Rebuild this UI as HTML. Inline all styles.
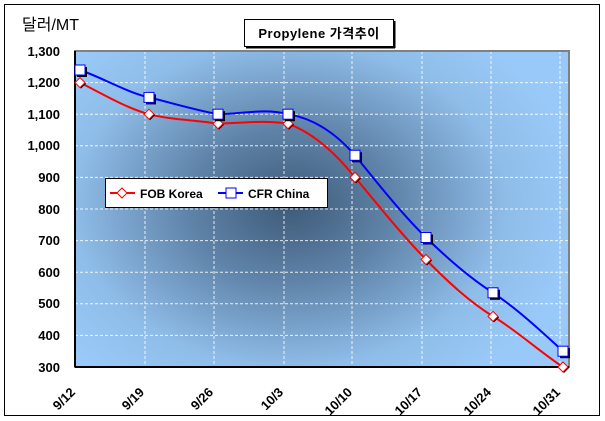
<!DOCTYPE html>
<html><head><meta charset="utf-8"><style>
body{margin:0;background:#fff;}
svg{display:block;font-family:"Liberation Sans","Noto Sans CJK KR",sans-serif;}
</style></head><body>
<svg width="605" height="421" viewBox="0 0 605 421">
<defs>
<radialGradient id="bg" cx="290" cy="205" r="290" gradientUnits="userSpaceOnUse" gradientTransform="translate(290 205) scale(1 0.75) translate(-290 -205)">
<stop offset="0" stop-color="#3e5a78"/>
<stop offset="0.35" stop-color="#5f83a8"/>
<stop offset="0.75" stop-color="#8fbde9"/>
<stop offset="1" stop-color="#99c9f8"/>
</radialGradient>
</defs>
<rect x="4.5" y="4.5" width="595" height="411" fill="#fff" stroke="#000" stroke-width="1"/>
<rect x="75" y="51" width="494" height="316" fill="url(#bg)"/>
<g stroke="#fff" stroke-dasharray="3,2" stroke-width="1" opacity="0.85">
<line x1="75" y1="82.6" x2="569" y2="82.6"/><line x1="75" y1="114.2" x2="569" y2="114.2"/>
<line x1="75" y1="145.8" x2="569" y2="145.8"/><line x1="75" y1="177.4" x2="569" y2="177.4"/>
<line x1="75" y1="209" x2="569" y2="209"/><line x1="75" y1="240.6" x2="569" y2="240.6"/>
<line x1="75" y1="272.2" x2="569" y2="272.2"/><line x1="75" y1="303.8" x2="569" y2="303.8"/>
<line x1="75" y1="335.4" x2="569" y2="335.4"/>
<line x1="145" y1="51" x2="145" y2="367"/><line x1="214" y1="51" x2="214" y2="367"/>
<line x1="284" y1="51" x2="284" y2="367"/><line x1="352" y1="51" x2="352" y2="367"/>
<line x1="422" y1="51" x2="422" y2="367"/><line x1="491" y1="51" x2="491" y2="367"/>
<line x1="560" y1="51" x2="560" y2="367"/>
</g>
<rect x="75" y="51" width="494" height="316" fill="none" stroke="#808080" stroke-width="2"/>
<line x1="75" y1="51" x2="75" y2="367" stroke="#000" stroke-width="2"/>
<line x1="75" y1="367" x2="569" y2="367" stroke="#000" stroke-width="2"/>
<g font-size="13" font-weight="bold" text-anchor="end">
<text x="60" y="56">1,300</text><text x="60" y="87">1,200</text><text x="60" y="119">1,100</text>
<text x="60" y="150">1,000</text><text x="60" y="182">900</text><text x="60" y="214">800</text>
<text x="60" y="245">700</text><text x="60" y="277">600</text><text x="60" y="308">500</text>
<text x="60" y="340">400</text><text x="60" y="372">300</text>
</g>
<g font-size="13" font-weight="bold" text-anchor="end">
<text transform="translate(76 393) rotate(-45)">9/12</text>
<text transform="translate(145 393) rotate(-45)">9/19</text>
<text transform="translate(214 393) rotate(-45)">9/26</text>
<text transform="translate(284 393) rotate(-45)">10/3</text>
<text transform="translate(353 393) rotate(-45)">10/10</text>
<text transform="translate(423 393) rotate(-45)">10/17</text>
<text transform="translate(492 393) rotate(-45)">10/24</text>
<text transform="translate(561 393) rotate(-45)">10/31</text>
</g>
<text x="22" y="30" font-size="16">달러/MT</text>
<rect x="244.5" y="19.5" width="149" height="27" fill="#fff" stroke="#000"/>
<line x1="246" y1="47.5" x2="395" y2="47.5" stroke="#000" stroke-width="2"/>
<line x1="394.5" y1="21" x2="394.5" y2="48" stroke="#000" stroke-width="2"/>
<text x="319" y="38" font-size="13" font-weight="bold" text-anchor="middle" letter-spacing="0.5">Propylene 가격추이</text>
<path d="M80,82.6 C103,94 126,108 149,114.2 C172,120 195,120 218,123.7 C241,123 265,120 288,123.7 C311,132 333,150 355,177.4 C379,206 402,235 426,259.5 C449,283 470,302 493,316.4 C516,330 540,352 563,367" fill="none" stroke="#f00" stroke-width="2"/>
<path d="M80,70 C103,78 126,92 149,97.4 C172,103 195,110 218,114.2 C241,114 265,108 288,114.2 C311,118 333,130 355,155.3 C379,185 402,214 426,237.5 C449,260 470,278 493,292.8 C516,308 540,330 563,351.2" fill="none" stroke="#00f" stroke-width="2"/>
<g fill="#fff" stroke="#f00" stroke-width="1">
<g transform="translate(80 82.6)"><path d="M1,-4 l5,5 -5,5 -5,-5z" fill="#000" stroke="none"/><path d="M0,-5 l5,5 -5,5 -5,-5z"/></g>
<g transform="translate(149 114.2)"><path d="M1,-4 l5,5 -5,5 -5,-5z" fill="#000" stroke="none"/><path d="M0,-5 l5,5 -5,5 -5,-5z"/></g>
<g transform="translate(218 123.7)"><path d="M1,-4 l5,5 -5,5 -5,-5z" fill="#000" stroke="none"/><path d="M0,-5 l5,5 -5,5 -5,-5z"/></g>
<g transform="translate(288 123.7)"><path d="M1,-4 l5,5 -5,5 -5,-5z" fill="#000" stroke="none"/><path d="M0,-5 l5,5 -5,5 -5,-5z"/></g>
<g transform="translate(355 177.4)"><path d="M1,-4 l5,5 -5,5 -5,-5z" fill="#000" stroke="none"/><path d="M0,-5 l5,5 -5,5 -5,-5z"/></g>
<g transform="translate(426 259.5)"><path d="M1,-4 l5,5 -5,5 -5,-5z" fill="#000" stroke="none"/><path d="M0,-5 l5,5 -5,5 -5,-5z"/></g>
<g transform="translate(493 316.4)"><path d="M1,-4 l5,5 -5,5 -5,-5z" fill="#000" stroke="none"/><path d="M0,-5 l5,5 -5,5 -5,-5z"/></g>
<g transform="translate(563 367)"><path d="M1,-4 l5,5 -5,5 -5,-5z" fill="#000" stroke="none"/><path d="M0,-5 l5,5 -5,5 -5,-5z"/></g>
</g>
<g fill="#fff" stroke="#00f" stroke-width="1">
<g transform="translate(80 70)"><rect x="-3" y="-3" width="10" height="10" fill="#000" stroke="none"/><rect x="-5" y="-5" width="10" height="10"/></g>
<g transform="translate(149 97.4)"><rect x="-3" y="-3" width="10" height="10" fill="#000" stroke="none"/><rect x="-5" y="-5" width="10" height="10"/></g>
<g transform="translate(218 114.2)"><rect x="-3" y="-3" width="10" height="10" fill="#000" stroke="none"/><rect x="-5" y="-5" width="10" height="10"/></g>
<g transform="translate(288 114.2)"><rect x="-3" y="-3" width="10" height="10" fill="#000" stroke="none"/><rect x="-5" y="-5" width="10" height="10"/></g>
<g transform="translate(355 155.3)"><rect x="-3" y="-3" width="10" height="10" fill="#000" stroke="none"/><rect x="-5" y="-5" width="10" height="10"/></g>
<g transform="translate(426 237.5)"><rect x="-3" y="-3" width="10" height="10" fill="#000" stroke="none"/><rect x="-5" y="-5" width="10" height="10"/></g>
<g transform="translate(493 292.8)"><rect x="-3" y="-3" width="10" height="10" fill="#000" stroke="none"/><rect x="-5" y="-5" width="10" height="10"/></g>
<g transform="translate(563 351.2)"><rect x="-3" y="-3" width="10" height="10" fill="#000" stroke="none"/><rect x="-5" y="-5" width="10" height="10"/></g>
</g>
<rect x="105.5" y="178.5" width="222" height="29" fill="#fff" stroke="#000"/>
<line x1="110" y1="193" x2="135" y2="193" stroke="#f00" stroke-width="2"/>
<path d="M122,188 l5,5 -5,5 -5,-5z" fill="#fff" stroke="#f00"/>
<text x="140" y="198" font-size="12" font-weight="bold">FOB Korea</text>
<line x1="218" y1="193" x2="243" y2="193" stroke="#00f" stroke-width="2"/>
<rect x="226" y="188" width="10" height="10" fill="#fff" stroke="#00f"/>
<text x="248" y="198" font-size="12" font-weight="bold">CFR China</text>
</svg>
</body></html>
